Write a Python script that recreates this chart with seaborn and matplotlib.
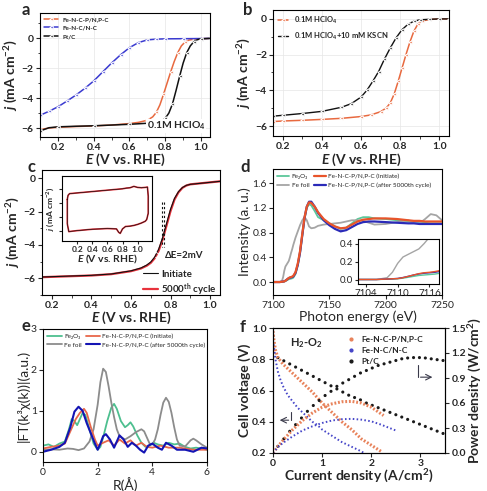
import matplotlib
matplotlib.use("Agg")
import matplotlib.pyplot as plt
import seaborn as sns
from matplotlib.lines import Line2D
from matplotlib.ticker import MultipleLocator, FormatStrFormatter

# ---------------- data ----------------
# (a) LSV in 0.1 M HClO4
a_E_pnpc = [0.10, 0.15, 0.20, 0.30, 0.40, 0.50, 0.60, 0.65, 0.70, 0.73, 0.75, 0.77, 0.79, 0.81, 0.83, 0.85, 0.87, 0.89, 0.91, 0.93, 0.96, 1.00, 1.05]
a_j_pnpc = [-6.10, -6.00, -5.95, -5.90, -5.86, -5.80, -5.70, -5.62, -5.48, -5.25, -4.95, -4.45, -3.75, -3.00, -2.25, -1.55, -0.95, -0.50, -0.25, -0.12, -0.05, -0.02, 0.0]
a_E_fenc = [0.10, 0.15, 0.20, 0.25, 0.30, 0.35, 0.40, 0.45, 0.50, 0.55, 0.60, 0.65, 0.70, 0.75, 0.80, 0.90, 1.00, 1.05]
a_j_fenc = [-5.15, -4.88, -4.58, -4.20, -3.80, -3.35, -2.85, -2.25, -1.65, -1.10, -0.62, -0.28, -0.10, -0.05, -0.03, -0.02, -0.01, 0.0]
a_E_pt = [0.10, 0.15, 0.20, 0.30, 0.40, 0.50, 0.60, 0.70, 0.75, 0.78, 0.80, 0.82, 0.84, 0.86, 0.88, 0.90, 0.92, 0.94, 0.96, 0.98, 1.00, 1.05]
a_j_pt = [-6.20, -5.98, -5.92, -5.88, -5.85, -5.80, -5.75, -5.68, -5.62, -5.52, -5.35, -5.00, -4.40, -3.50, -2.55, -1.65, -0.95, -0.50, -0.22, -0.08, -0.03, 0.0]

# (b) SCN- poisoning
b_E_acid = [0.15, 0.20, 0.30, 0.40, 0.50, 0.60, 0.65, 0.70, 0.73, 0.75, 0.77, 0.79, 0.81, 0.83, 0.85, 0.87, 0.89, 0.91, 0.95, 1.00, 1.05]
b_j_acid = [-5.75, -5.72, -5.68, -5.63, -5.57, -5.47, -5.38, -5.20, -4.98, -4.70, -4.20, -3.50, -2.75, -2.00, -1.30, -0.70, -0.30, -0.12, -0.03, 0.0, 0.0]
b_E_kscn = [0.15, 0.20, 0.30, 0.40, 0.50, 0.55, 0.60, 0.63, 0.66, 0.69, 0.72, 0.75, 0.78, 0.81, 0.84, 0.87, 0.90, 0.95, 1.00, 1.05]
b_j_kscn = [-5.45, -5.40, -5.30, -5.18, -4.95, -4.75, -4.38, -4.00, -3.50, -2.95, -2.25, -1.62, -1.05, -0.60, -0.30, -0.13, -0.05, -0.02, 0.0, 0.0]

# (c) stability test
c_E = [0.15, 0.30, 0.40, 0.50, 0.60, 0.65, 0.68, 0.70, 0.72, 0.74, 0.76, 0.78, 0.80, 0.82, 0.84, 0.86, 0.88, 0.90, 0.95, 1.00, 1.05]
c_j_init = [-5.92, -5.86, -5.82, -5.74, -5.55, -5.38, -5.20, -5.02, -4.72, -4.25, -3.55, -2.70, -1.85, -1.20, -0.80, -0.55, -0.42, -0.36, -0.30, -0.24, -0.18]
c_j_5000 = [-5.93, -5.87, -5.83, -5.75, -5.57, -5.41, -5.24, -5.07, -4.79, -4.34, -3.66, -2.82, -1.96, -1.27, -0.84, -0.57, -0.43, -0.36, -0.30, -0.24, -0.18]
cv_E = [0.07, 0.08, 0.10, 0.15, 0.20, 0.30, 0.40, 0.50, 0.60, 0.70, 0.80, 0.85, 0.90, 0.95, 1.00, 1.05, 1.10, 1.13, 1.14, 1.14, 1.12, 1.10, 1.05, 1.00, 0.95, 0.90, 0.84, 0.80, 0.77, 0.75, 0.72, 0.60, 0.50, 0.40, 0.30, 0.20, 0.12, 0.09, 0.07, 0.07]
cv_j = [1.10, 1.22, 1.27, 1.28, 1.29, 1.31, 1.33, 1.35, 1.37, 1.39, 1.41, 1.43, 1.44, 1.48, 1.45, 1.44, 1.45, 1.46, 1.20, 0.70, 0.52, 0.47, 0.42, 0.38, 0.35, 0.33, 0.32, 0.25, 0.12, 0.15, 0.25, 0.26, 0.25, 0.24, 0.22, 0.20, 0.18, 0.17, 0.40, 1.10]

# (d) XANES
d_E = [7100, 7104, 7106, 7108, 7109, 7110, 7111, 7112, 7113, 7114, 7115, 7116, 7117, 7118, 7120, 7122, 7124, 7126, 7128, 7130, 7132, 7134, 7137, 7140, 7145, 7150, 7155, 7160, 7165, 7170, 7175, 7180, 7185, 7190, 7200, 7210, 7220, 7225, 7230, 7235, 7240, 7245, 7250]
d_fe2o3 = [0, 0, 0, 0.003, 0.005, 0.008, 0.015, 0.025, 0.035, 0.045, 0.05, 0.055, 0.06, 0.07, 0.13, 0.27, 0.47, 0.75, 1.02, 1.20, 1.26, 1.24, 1.15, 1.05, 1.00, 0.95, 0.90, 0.86, 0.88, 0.95, 1.02, 1.05, 1.05, 1.03, 1.02, 1.00, 0.98, 0.97, 0.96, 0.96, 0.95, 0.95, 0.95]
d_foil = [0, 0, 0, 0.02, 0.08, 0.18, 0.25, 0.28, 0.31, 0.34, 0.40, 0.47, 0.53, 0.60, 0.72, 0.82, 0.92, 1.00, 1.05, 1.00, 0.90, 0.87, 0.88, 0.91, 0.93, 0.94, 0.95, 0.96, 0.98, 1.00, 1.00, 0.99, 0.96, 0.93, 0.94, 0.97, 1.00, 0.96, 0.95, 1.02, 1.10, 1.08, 1.00]
d_init = [0, 0, 0, 0.005, 0.008, 0.01, 0.02, 0.035, 0.05, 0.065, 0.075, 0.08, 0.088, 0.10, 0.16, 0.30, 0.50, 0.78, 1.05, 1.22, 1.29, 1.28, 1.22, 1.13, 1.02, 0.95, 0.90, 0.87, 0.88, 0.93, 0.98, 1.01, 1.02, 1.03, 1.03, 1.02, 1.00, 0.99, 0.99, 0.98, 0.98, 0.98, 0.98]
d_5000 = [0, 0, 0, 0.005, 0.008, 0.012, 0.022, 0.035, 0.05, 0.062, 0.07, 0.075, 0.08, 0.09, 0.15, 0.28, 0.48, 0.76, 1.04, 1.22, 1.30, 1.30, 1.22, 1.12, 1.00, 0.92, 0.86, 0.82, 0.84, 0.89, 0.94, 0.97, 0.98, 0.98, 0.97, 0.96, 0.95, 0.95, 0.94, 0.94, 0.94, 0.94, 0.94]

# (e) FT-EXAFS
e_R_foil = [0, 0.3, 0.6, 0.9, 1.1, 1.3, 1.5, 1.7, 1.85, 2.0, 2.1, 2.2, 2.3, 2.4, 2.5, 2.6, 2.7, 2.8, 3.0, 3.2, 3.4, 3.6, 3.7, 3.8, 3.9, 4.0, 4.1, 4.2, 4.3, 4.4, 4.5, 4.6, 4.7, 4.8, 4.9, 5.0, 5.2, 5.4, 5.5, 5.6, 5.8, 6.0]
e_ft_foil = [0.05, 0.06, 0.05, 0.08, 0.07, 0.04, 0.08, 0.25, 0.55, 1.15, 1.70, 2.03, 1.95, 1.60, 1.20, 0.85, 0.55, 0.38, 0.30, 0.38, 0.48, 0.55, 0.50, 0.35, 0.20, 0.18, 0.30, 0.55, 0.90, 1.20, 1.32, 1.22, 0.95, 0.60, 0.30, 0.15, 0.13, 0.28, 0.32, 0.28, 0.18, 0.10]
e_R_fe2o3 = [0, 0.2, 0.4, 0.6, 0.8, 0.95, 1.05, 1.15, 1.25, 1.35, 1.45, 1.55, 1.7, 1.85, 2.0, 2.1, 2.2, 2.35, 2.5, 2.6, 2.7, 2.85, 3.0, 3.1, 3.2, 3.3, 3.45, 3.6, 3.75, 3.9, 4.05, 4.2, 4.4, 4.6, 4.8, 5.0, 5.2, 5.4, 5.6, 5.8, 6.0]
e_ft_fe2o3 = [0.15, 0.18, 0.12, 0.20, 0.25, 0.55, 0.80, 0.75, 0.65, 0.80, 0.95, 0.90, 0.55, 0.20, 0.05, 0.12, 0.35, 0.75, 1.08, 1.17, 1.05, 0.75, 0.60, 0.65, 0.72, 0.62, 0.40, 0.22, 0.12, 0.15, 0.22, 0.18, 0.15, 0.22, 0.18, 0.20, 0.12, 0.08, 0.10, 0.08, 0.05]
e_R_init = [0, 0.3, 0.6, 0.8, 1.0, 1.2, 1.35, 1.5, 1.6, 1.75, 1.9, 2.0, 2.2, 2.4, 2.6, 2.8, 3.0, 3.2, 3.4, 3.6, 3.8, 4.0, 4.3, 4.6, 5.0, 5.5, 6.0]
e_ft_init = [0.08, 0.12, 0.15, 0.20, 0.50, 0.80, 0.95, 1.05, 0.95, 0.60, 0.30, 0.15, 0.22, 0.28, 0.15, 0.30, 0.20, 0.28, 0.15, 0.22, 0.12, 0.10, 0.15, 0.10, 0.10, 0.05, 0.05]
e_R_5000 = [0, 0.3, 0.6, 0.8, 1.0, 1.15, 1.3, 1.45, 1.6, 1.75, 1.9, 2.0, 2.1, 2.2, 2.3, 2.45, 2.6, 2.7, 2.8, 2.95, 3.1, 3.25, 3.4, 3.55, 3.7, 3.85, 4.0, 4.2, 4.35, 4.5, 4.7, 4.9, 5.2, 5.5, 5.8, 6.0]
e_ft_5000 = [0.0, 0.05, 0.12, 0.22, 0.60, 0.98, 1.10, 1.00, 0.70, 0.45, 0.20, 0.05, 0.20, 0.38, 0.43, 0.30, 0.10, 0.25, 0.40, 0.30, 0.12, 0.22, 0.15, 0.05, -0.02, 0.15, 0.20, 0.10, 0.05, 0.22, 0.15, 0.05, 0.05, 0.0, 0.10, 0.08]

# (f) H2-O2 fuel cell
f_I_pnpc_v = [0, 0.02, 0.05, 0.1, 0.2, 0.3, 0.4, 0.6, 0.8, 1.0, 1.2, 1.4, 1.6, 1.8, 2.0, 2.2]
f_V_pnpc = [0.98, 0.92, 0.86, 0.81, 0.77, 0.74, 0.71, 0.65, 0.59, 0.52, 0.46, 0.40, 0.35, 0.29, 0.25, 0.21]
f_I_pnpc_p = [0, 0.1, 0.2, 0.4, 0.6, 0.8, 1.0, 1.2, 1.4, 1.6, 1.8, 2.0, 2.25]
f_P_pnpc = [0, 0.08, 0.15, 0.28, 0.39, 0.48, 0.55, 0.59, 0.615, 0.62, 0.60, 0.55, 0.45]
f_I_fenc_v = [0, 0.02, 0.05, 0.1, 0.15, 0.2, 0.3, 0.4, 0.5, 0.6, 0.7, 0.8, 0.9, 1.0, 1.2, 1.4, 1.6, 1.8, 1.85]
f_V_fenc = [0.92, 0.88, 0.80, 0.72, 0.67, 0.63, 0.57, 0.53, 0.49, 0.46, 0.43, 0.40, 0.38, 0.35, 0.31, 0.27, 0.24, 0.21, 0.20]
f_I_fenc_p = [0, 0.1, 0.2, 0.4, 0.6, 0.8, 1.0, 1.2, 1.4, 1.6, 1.8, 2.0, 2.2, 2.5]
f_P_fenc = [0, 0.07, 0.12, 0.20, 0.27, 0.32, 0.36, 0.39, 0.405, 0.41, 0.40, 0.38, 0.34, 0.27]
f_I_pt = [0, 0.1, 0.22, 0.34, 0.46, 0.58, 0.7, 0.82, 0.94, 1.06, 1.18, 1.3, 1.42, 1.54, 1.66, 1.78, 1.9, 2.02, 2.14, 2.26, 2.38, 2.5, 2.62, 2.74, 2.86, 2.98, 3.1, 3.22, 3.34, 3.46]
f_V_pt = [0.95, 0.81, 0.79, 0.77, 0.75, 0.73, 0.71, 0.69, 0.67, 0.65, 0.63, 0.61, 0.59, 0.57, 0.555, 0.54, 0.52, 0.505, 0.49, 0.475, 0.46, 0.445, 0.43, 0.415, 0.40, 0.385, 0.37, 0.355, 0.34, 0.325]
f_P_pt = [0, 0.08, 0.17, 0.26, 0.34, 0.42, 0.50, 0.57, 0.63, 0.69, 0.74, 0.80, 0.84, 0.88, 0.92, 0.96, 0.99, 1.02, 1.05, 1.07, 1.09, 1.11, 1.13, 1.14, 1.145, 1.145, 1.14, 1.13, 1.12, 1.11]

# ---------------- style ----------------
sns.set_style("ticks")
plt.rcParams['font.family'] = ['Lato', 'DejaVu Sans']
plt.rcParams['mathtext.fontset'] = 'custom'
plt.rcParams['mathtext.rm'] = 'Lato:bold'
plt.rcParams['mathtext.it'] = 'Lato:italic:bold'
plt.rcParams['mathtext.bf'] = 'Lato:bold'
plt.rcParams['axes.linewidth'] = 0.8
plt.rcParams['axes.edgecolor'] = 'black'
plt.rcParams['xtick.major.size'] = 3
plt.rcParams['ytick.major.size'] = 3
plt.rcParams['xtick.minor.size'] = 1.8
plt.rcParams['ytick.minor.size'] = 1.8

W, H = 487, 491
fig = plt.figure(figsize=(W / 100, H / 100), dpi=100)


def box(l, r, t, b):
    return fig.add_axes([l / W, 1 - b / H, (r - l) / W, (b - t) / H])


def ticks_font(ax, size=7.5, weight='bold'):
    for lbl in ax.get_xticklabels() + ax.get_yticklabels():
        lbl.set_fontsize(size)
        lbl.set_fontweight(weight)
    ax.tick_params(pad=1.5)


ORANGE = '#e8693f'
BLUE = '#3a3ad0'
jlab = r"$\mathit{j}$ (mA cm$^{-2}$)"
Elab = r"$\mathit{E}$ (V vs. RHE)"

# ---------------- (a) ----------------
ax = box(40, 210, 13, 137)
sns.lineplot(x=a_E_pnpc, y=a_j_pnpc, ax=ax, color=ORANGE, lw=1.1, marker='<', ms=2.5, markevery=2, label='Fe-N-C-P/N,P-C')
sns.lineplot(x=a_E_fenc, y=a_j_fenc, ax=ax, color=BLUE, lw=1.1, marker='<', ms=2.5, label='Fe-N-C/N-C')
sns.lineplot(x=a_E_pt, y=a_j_pt, ax=ax, color='#111111', lw=1.1, marker='<', ms=2.5, markevery=2, label='Pt/C')
ax.set_xlim(0.1, 1.05)
ax.set_ylim(-6.6, 1.7)
ax.xaxis.set_major_locator(MultipleLocator(0.2))
ax.xaxis.set_minor_locator(MultipleLocator(0.1))
ax.yaxis.set_major_locator(MultipleLocator(2))
ax.yaxis.set_minor_locator(MultipleLocator(1))
ax.xaxis.set_major_formatter(FormatStrFormatter('%.1f'))
ax.grid(True, color='#e6e6e6', lw=0.5)
ax.set_axisbelow(True)
ax.legend(loc='upper left', frameon=False, handlelength=2.2, borderaxespad=0.2, labelspacing=0.5,
          prop={'size': 4.5, 'weight': 'bold'})
ax.text(0.975, 0.04, r"0.1M HClO$_4$", transform=ax.transAxes, ha='right', va='bottom', fontsize=7.5,
        fontweight='bold', bbox=dict(facecolor='white', edgecolor='none', pad=0.5))
ax.set_xlabel(Elab, fontsize=10, fontweight='bold', labelpad=0)
ax.set_ylabel(jlab, fontsize=10, fontweight='bold', labelpad=1)
ticks_font(ax)

# ---------------- (b) ----------------
ax = box(273, 449, 10, 136)
sns.lineplot(x=b_E_acid, y=b_j_acid, ax=ax, color=ORANGE, lw=1.1, marker='<', ms=2.5, label=r"0.1M HClO$_4$")
sns.lineplot(x=b_E_kscn, y=b_j_kscn, ax=ax, color='#111111', lw=1.0, marker='<', ms=2.5, label=r"0.1M HClO$_4$+10 mM KSCN")
ax.set_xlim(0.15, 1.05)
ax.set_ylim(-6.56, 0.5)
ax.xaxis.set_major_locator(MultipleLocator(0.2))
ax.xaxis.set_minor_locator(MultipleLocator(0.1))
ax.yaxis.set_major_locator(MultipleLocator(2))
ax.yaxis.set_minor_locator(MultipleLocator(1))
ax.xaxis.set_major_formatter(FormatStrFormatter('%.1f'))
ax.grid(True, color='#e6e6e6', lw=0.5)
ax.set_axisbelow(True)
ax.legend(loc='upper left', frameon=False, handlelength=1.4, borderaxespad=0.2, labelspacing=0.6,
          prop={'size': 5.5, 'weight': 'bold'})
ax.set_xlabel(Elab, fontsize=10, fontweight='bold', labelpad=0)
ax.set_ylabel(jlab, fontsize=10, fontweight='bold', labelpad=1)
ticks_font(ax)

# ---------------- (c) ----------------
ax = box(42, 220, 170, 295)
sns.lineplot(x=c_E, y=c_j_5000, ax=ax, color='#e8323c', lw=1.6, label=r"5000$^{\mathrm{th}}$ cycle")
sns.lineplot(x=c_E, y=c_j_init, ax=ax, color='#111111', lw=0.8, label='Initiate')
ax.plot([0.757, 0.757], [-1.4, -4.1], ls=(0, (2, 2)), color='#111111', lw=0.8)
ax.plot([0.767, 0.767], [-1.4, -4.1], ls=(0, (2, 2)), color='#111111', lw=0.8)
ax.annotate('', xy=(0.757, -4.6), xytext=(0.73, -4.6), arrowprops=dict(arrowstyle='->', lw=0.6))
ax.text(0.772, -4.62, u"\u0394E=2mV", fontsize=7, fontweight='bold', va='center', ha='left')
ax.set_xlim(0.15, 1.05)
ax.set_ylim(-7.0, 0.5)
ax.xaxis.set_major_locator(MultipleLocator(0.2))
ax.xaxis.set_minor_locator(MultipleLocator(0.1))
ax.yaxis.set_major_locator(MultipleLocator(2))
ax.yaxis.set_minor_locator(MultipleLocator(1))
ax.xaxis.set_major_formatter(FormatStrFormatter('%.1f'))
h, l = ax.get_legend_handles_labels()
ax.legend(h[::-1], l[::-1], loc='lower right', bbox_to_anchor=(1.01, -0.06), frameon=False, handlelength=1.6,
          borderaxespad=0.1, labelspacing=0.25, handletextpad=0.3, prop={'size': 7, 'weight': 'bold'})
ax.set_xlabel(Elab, fontsize=10, fontweight='bold', labelpad=0)
ax.set_ylabel(jlab, fontsize=10, fontweight='bold', labelpad=1)
ticks_font(ax)

ins = box(62, 152, 176, 241)
sns.lineplot(x=cv_E, y=cv_j, ax=ins, color='#e8323c', lw=1.2, sort=False, estimator=None)
sns.lineplot(x=cv_E, y=cv_j, ax=ins, color='#111111', lw=0.5, sort=False, estimator=None)
ins.set_xlim(0.0, 1.19)
ins.set_ylim(-0.1, 1.78)
ins.set_xticks([0.2, 0.4, 0.6, 0.8, 1.0])
ins.xaxis.set_major_formatter(FormatStrFormatter('%.1f'))
ins.set_yticks([0.2, 0.6, 1.0, 1.4])
ins.set_yticklabels([])
ins.tick_params(length=2)
ins.set_xlabel(Elab, fontsize=7.5, fontweight='bold', labelpad=0)
ins.set_ylabel(jlab, fontsize=6, fontweight='bold', labelpad=1)
ticks_font(ins, size=6)

# ---------------- (d) ----------------
GREEN = '#5cc79a'
GREY = '#a5a5a5'
RED = '#e8542a'
NAVY = '#2a2ab8'
ax = box(273, 442, 169, 295)
sns.lineplot(x=d_E, y=d_fe2o3, ax=ax, color=GREEN, lw=1.3, label=u"Fe\u2082O\u2083")
sns.lineplot(x=d_E, y=d_foil, ax=ax, color=GREY, lw=1.3, label='Fe foil')
sns.lineplot(x=d_E, y=d_5000, ax=ax, color=NAVY, lw=1.6, label='Fe-N-C-P/N,P-C (after 5000th cycle)')
sns.lineplot(x=d_E, y=d_init, ax=ax, color=RED, lw=1.6, label='Fe-N-C-P/N,P-C (Initiate)')
h, l = ax.get_legend_handles_labels()
ax.legend([h[0], h[1], h[3], h[2]], [l[0], l[1], l[3], l[2]], ncol=2, loc='upper left', frameon=False,
          handlelength=1.8, columnspacing=0.8, handletextpad=0.4, borderaxespad=0.3, labelspacing=0.6,
          prop={'size': 4.6})
ax.set_xlim(7100, 7250)
ax.set_ylim(-0.21, 1.83)
ax.set_xticks([7100, 7150, 7200, 7250])
ax.set_yticks([0.0, 0.4, 0.8, 1.2, 1.6])
ax.yaxis.set_major_formatter(FormatStrFormatter('%.1f'))
ax.set_xlabel('Photon energy (eV)', fontsize=10, labelpad=0)
ax.set_ylabel('Intensity (a. u.)', fontsize=10, labelpad=1)
ticks_font(ax, size=7.5, weight='normal')

ins = box(358, 439, 239, 284)
sns.lineplot(x=d_E, y=d_fe2o3, ax=ins, color=GREEN, lw=1.0)
sns.lineplot(x=d_E, y=d_foil, ax=ins, color=GREY, lw=1.0)
sns.lineplot(x=d_E, y=d_5000, ax=ins, color=NAVY, lw=1.0)
sns.lineplot(x=d_E, y=d_init, ax=ins, color=RED, lw=1.0)
ins.set_xlim(7102.5, 7117.8)
ins.set_ylim(-0.05, 0.45)
ins.set_xticks([7104, 7110, 7116])
ins.set_yticks([0.0, 0.2, 0.4])
ins.yaxis.set_major_formatter(FormatStrFormatter('%.1f'))
ins.tick_params(length=2)
ticks_font(ins, size=7, weight='normal')

# ---------------- (e) ----------------
ax = box(43, 207, 329, 462)
sns.lineplot(x=e_R_fe2o3, y=e_ft_fe2o3, ax=ax, color='#4dbf8f', lw=1.3, label=u"Fe\u2082O\u2083")
sns.lineplot(x=e_R_foil, y=e_ft_foil, ax=ax, color='#8c8c8c', lw=1.3, label='Fe foil')
sns.lineplot(x=e_R_init, y=e_ft_init, ax=ax, color='#e8674a', lw=1.3, label='Fe-N-C-P/N,P-C (Initiate)')
sns.lineplot(x=e_R_5000, y=e_ft_5000, ax=ax, color='#1414b4', lw=1.5, label='Fe-N-C-P/N,P-C (after 5000th cycle)')
ax.legend(ncol=2, loc='upper left', frameon=False, handlelength=2.2, columnspacing=0.6, handletextpad=0.4,
          borderaxespad=0.3, labelspacing=0.5, prop={'size': 4.6})
ax.set_xlim(0, 6)
ax.set_ylim(-0.25, 3)
ax.set_xticks([0, 2, 4, 6])
ax.set_yticks([0, 1, 2, 3])
ax.set_xlabel(u"R(\u00c5)", fontsize=10, labelpad=0)
ax.set_ylabel(u"|FT(k\u00b3\u03c7(k))|(a.u.)", fontsize=10, labelpad=1)
ticks_font(ax, size=7.5, weight='normal')

# ---------------- (f) ----------------
ax = box(273, 445, 328, 453)
ax2 = ax.twinx()
PCOL = '#e8825a'
FCOL = '#4545c8'
sns.lineplot(x=f_I_pnpc_v, y=f_V_pnpc, ax=ax, color=PCOL, lw=2.2, ls=(0, (0.6, 0.6)), legend=False)
sns.lineplot(x=f_I_fenc_v, y=f_V_fenc, ax=ax, color=FCOL, lw=1.4, ls=(0, (0.8, 1.2)), legend=False)
sns.scatterplot(x=f_I_pt, y=f_V_pt, ax=ax, color='#1a1a1a', s=5, edgecolor='none', legend=False)
sns.lineplot(x=f_I_pnpc_p, y=f_P_pnpc, ax=ax2, color=PCOL, lw=2.2, ls=(0, (0.6, 0.6)), legend=False)
sns.lineplot(x=f_I_fenc_p, y=f_P_fenc, ax=ax2, color=FCOL, lw=1.4, ls=(0, (0.8, 1.2)), legend=False)
sns.scatterplot(x=f_I_pt, y=f_P_pt, ax=ax2, color='#1a1a1a', s=5, edgecolor='none', legend=False)
ax.set_xlim(0, 3.5)
ax.set_ylim(0.2, 1.0)
ax2.set_ylim(0, 1.5)
ax.set_xticks([0, 1, 2, 3])
ax.set_yticks([0.2, 0.4, 0.6, 0.8, 1.0])
ax2.set_yticks([0.0, 0.3, 0.6, 0.9, 1.2, 1.5])
ax.yaxis.set_major_formatter(FormatStrFormatter('%.1f'))
ax2.yaxis.set_major_formatter(FormatStrFormatter('%.1f'))
handles = [Line2D([], [], ls='none', marker='o', ms=2, color=PCOL),
           Line2D([], [], ls='none', marker='o', ms=2, color=FCOL),
           Line2D([], [], ls='none', marker='o', ms=2, color='#1a1a1a')]
ax.legend(handles, ['Fe-N-C-P/N,P-C', 'Fe-N-C/N-C', 'Pt/C'], loc='upper left', bbox_to_anchor=(0.36, 1.0),
          frameon=False, handletextpad=0.3, labelspacing=0.5, prop={'size': 6, 'weight': 'bold'})
ax.text(0.35, 0.905, r"H$_2$-O$_2$", fontsize=8, fontweight='bold', va='center')
ax.plot([0.37, 0.37], [0.465, 0.41], color='#3a3a4a', lw=0.8)
ax.annotate('', xy=(0.08, 0.41), xytext=(0.375, 0.41), arrowprops=dict(arrowstyle='->', color='#3a3a4a', lw=0.8))
ax2.plot([2.95, 2.95], [1.06, 0.91], color='#3a3a4a', lw=0.8)
ax2.annotate('', xy=(3.3, 0.91), xytext=(2.945, 0.91), arrowprops=dict(arrowstyle='->', color='#3a3a4a', lw=0.8))
ax.set_xlabel(r"Current density (A/cm$^2$)", fontsize=10, fontweight='bold', labelpad=0)
ax.set_ylabel('Cell voltage (V)', fontsize=10, fontweight='bold', labelpad=1)
ax2.set_ylabel(r"Power density (W/cm$^2$)", fontsize=10, fontweight='bold', labelpad=1)
ticks_font(ax)
ticks_font(ax2)

# panel letters
for letter, (px, py) in zip('abcdef', [(22, 10), (243, 10), (27, 167), (240, 167), (22, 326), (240, 327)]):
    fig.text(px / W, 1 - py / H, letter, fontsize=12, fontweight='bold', va='center', ha='left')

fig.savefig('out.png', dpi=100)
